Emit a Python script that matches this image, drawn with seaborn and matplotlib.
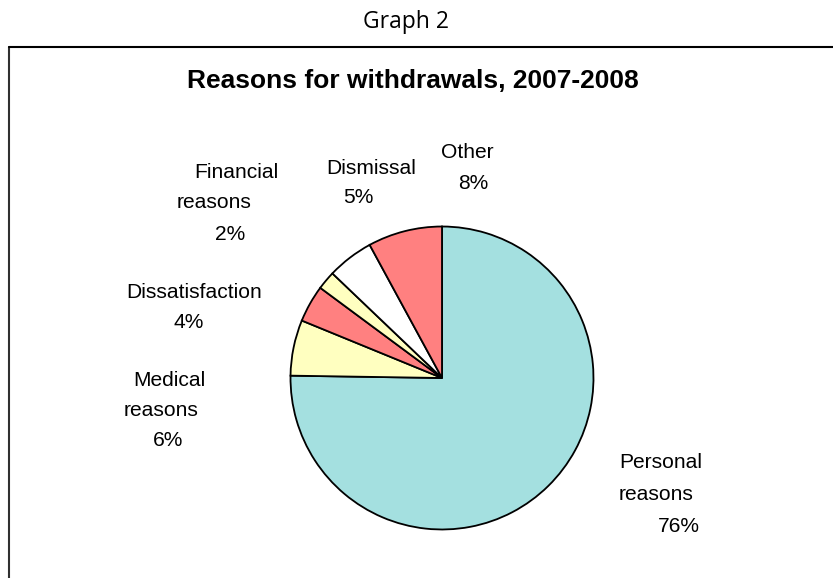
import matplotlib
matplotlib.use("Agg")
import matplotlib.pyplot as plt
from matplotlib.lines import Line2D
import seaborn as sns

# Withdrawal reasons, listed clockwise from 12 o'clock
categories = ["Personal reasons", "Medical reasons", "Dissatisfaction",
              "Financial reasons", "Dismissal", "Other"]
shares = [76, 6, 4, 2, 5, 8]
slice_colors = ["#A4E0E0", "#FFFFC0", "#FF8080", "#FFFFC0", "#FFFFFF", "#FF8080"]

# Label lines per category as shown beside the pie
label_lines = {
    "Personal reasons": ["Personal", "reasons", "76%"],
    "Medical reasons": ["Medical", "reasons", "6%"],
    "Dissatisfaction": ["Dissatisfaction", "4%"],
    "Financial reasons": ["Financial", "reasons", "2%"],
    "Dismissal": ["Dismissal", "5%"],
    "Other": ["Other", "8%"],
}
# Left edge (px) and vertical centre (px) of each label line
label_layout = {
    "Personal reasons": [(619, 463), (619, 495), (658, 527)],
    "Medical reasons": [(133, 380), (124, 410), (153, 440)],
    "Dissatisfaction": [(126, 293), (173, 322)],
    "Financial reasons": [(194, 173), (177, 203), (215, 235)],
    "Dismissal": [(326, 168), (343, 198)],
    "Other": [(441, 152), (458, 183)],
}

sns.set_style("white")
plt.rcParams["font.family"] = ["Liberation Sans", "DejaVu Sans"]

W, H = 833, 578
fig = plt.figure(figsize=(W / 100, H / 100), dpi=100)
fig.patch.set_facecolor("white")

# Pie axes: centre (442, 378) px, radius 153 px
cx, cy, r = 442, 378, 153
ax = fig.add_axes([(cx - r) / W, (H - cy - r) / H, 2 * r / W, 2 * r / H])
ax.pie(shares, colors=slice_colors, startangle=90, counterclock=False,
       radius=1.0,
       wedgeprops=dict(edgecolor="black", linewidth=1.3))
ax.set_xlim(-1.01, 1.01)
ax.set_ylim(-1.01, 1.01)
ax.set_aspect("equal")
ax.axis("off")

# Category labels
for cat in categories:
    for text, (px, py) in zip(label_lines[cat], label_layout[cat]):
        fig.text(px / W, 1 - py / H, text, ha="left", va="center",
                 fontsize=15.1, color="black")

# Titles
fig.text(406 / W, 1 - 22 / H, "Graph 2", ha="center", va="center",
         fontsize=16.5, family=["Open Sans", "DejaVu Sans"], color="black")
fig.text(413 / W, 1 - 81 / H, "Reasons for withdrawals, 2007-2008",
         ha="center", va="center", fontsize=19, fontweight="bold",
         color="black")

# Chart frame (left and top edges)
fig.add_artist(Line2D([8.5 / W, 8.5 / W], [0, 1 - 46.5 / H],
                      color="#303030", linewidth=1.5))
fig.add_artist(Line2D([8.5 / W, 1], [1 - 46.5 / H, 1 - 46.5 / H],
                      color="black", linewidth=1.5))

fig.savefig("out.png", dpi=100, facecolor="white")
